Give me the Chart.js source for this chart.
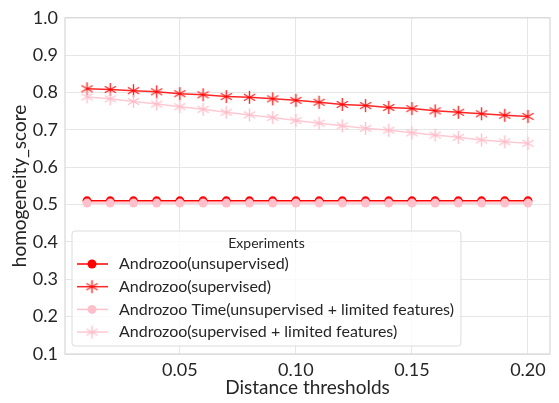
<!DOCTYPE html>
<html>
<head>
<meta charset="utf-8">
<script src="https://cdn.jsdelivr.net/npm/chart.js@4.4.1/dist/chart.umd.min.js"></script>
<style>
  html, body { margin: 0; padding: 0; background: #fff; }
  #wrap { width: 559px; height: 403px; }
</style>
</head>
<body>
<div id="wrap"><canvas id="chart" width="559" height="403"></canvas></div>
<script>
const thresholds = [0.01, 0.02, 0.03, 0.04, 0.05, 0.06, 0.07, 0.08, 0.09, 0.10,
                    0.11, 0.12, 0.13, 0.14, 0.15, 0.16, 0.17, 0.18, 0.19, 0.20];
const unsupervised = [0.510, 0.510, 0.510, 0.510, 0.510, 0.510, 0.510, 0.510, 0.510, 0.510,
                      0.510, 0.510, 0.510, 0.510, 0.510, 0.510, 0.510, 0.510, 0.510, 0.510];
const supervised = [0.810, 0.808, 0.805, 0.802, 0.797, 0.794, 0.789, 0.787, 0.783, 0.779,
                    0.774, 0.768, 0.765, 0.760, 0.757, 0.751, 0.747, 0.743, 0.739, 0.736];
const unsupervisedLimited = [0.504, 0.504, 0.504, 0.504, 0.504, 0.504, 0.504, 0.504, 0.504, 0.504,
                             0.504, 0.504, 0.504, 0.504, 0.504, 0.504, 0.504, 0.504, 0.504, 0.504];
const supervisedLimited = [0.788, 0.783, 0.776, 0.769, 0.762, 0.755, 0.747, 0.740, 0.733, 0.725,
                           0.718, 0.711, 0.704, 0.699, 0.692, 0.686, 0.680, 0.673, 0.668, 0.664];
const xTicks = [0.05, 0.10, 0.15, 0.20];
const yTicks = [0.1, 0.2, 0.3, 0.4, 0.5, 0.6, 0.7, 0.8, 0.9, 1.0];
const seriesNames = [
    "Androzoo(unsupervised)",
    "Androzoo(supervised)",
    "Androzoo Time(unsupervised + limited features)",
    "Androzoo(supervised + limited features)"
];
const legendTitle = "Experiments";

const FONT = "Lato, 'Noto Sans', sans-serif";
const TEXT = "#262626";

function toPoints(values) {
    return thresholds.map((t, i) => ({ x: t, y: values[i] }));
}

// six armed asterisk used as marker for the supervised runs
function makeAsterisk(colour) {
    const size = 15;
    const c = document.createElement('canvas');
    c.width = size;
    c.height = size;
    const g = c.getContext('2d');
    const r = 6.5, m = size / 2;
    g.strokeStyle = colour;
    g.lineWidth = 1.4;
    g.beginPath();
    for (let k = 0; k < 3; k++) {
        const ang = Math.PI / 2 + k * Math.PI / 3;
        g.moveTo(m + r * Math.cos(ang), m + r * Math.sin(ang));
        g.lineTo(m - r * Math.cos(ang), m - r * Math.sin(ang));
    }
    g.stroke();
    return c;
}

const plotFrame = {
    id: 'plotFrame',
    afterDatasetsDraw(chart) {
        const { ctx, chartArea: a } = chart;
        ctx.save();
        ctx.strokeStyle = '#d8d8d8';
        ctx.lineWidth = 1.2;
        ctx.strokeRect(a.left, a.top, a.right - a.left, a.bottom - a.top);
        ctx.restore();
    }
};

const boxLegend = {
    id: 'boxLegend',
    afterDraw(chart) {
        const { ctx, chartArea: a } = chart;
        const entryFont = `16px ${FONT}`;
        const titleFont = `14px ${FONT}`;
        ctx.save();
        ctx.font = entryFont;
        let maxW = 0;
        chart.data.datasets.forEach(ds => { maxW = Math.max(maxW, ctx.measureText(ds.label).width); });
        const w = 47 + maxW + 7;
        const h = 115;
        const x0 = a.left + 7;
        const y0 = a.bottom - 8 - h;

        ctx.beginPath();
        ctx.roundRect(x0, y0, w, h, 3);
        ctx.fillStyle = 'rgba(255,255,255,0.8)';
        ctx.fill();
        ctx.strokeStyle = '#dcdcdc';
        ctx.lineWidth = 1;
        ctx.stroke();

        ctx.fillStyle = TEXT;
        ctx.font = titleFont;
        ctx.textAlign = 'center';
        ctx.textBaseline = 'middle';
        ctx.fillText(legendTitle, x0 + w / 2, y0 + 12);

        chart.data.datasets.forEach((ds, i) => {
            const cy = y0 + 33 + i * 22.7;
            ctx.strokeStyle = ds.borderColor;
            ctx.lineWidth = ds.borderWidth;
            ctx.beginPath();
            ctx.moveTo(x0 + 5, cy);
            ctx.lineTo(x0 + 36, cy);
            ctx.stroke();
            if (ds.pointStyle === 'circle') {
                ctx.fillStyle = ds.pointBackgroundColor;
                ctx.beginPath();
                ctx.arc(x0 + 20, cy, ds.pointRadius, 0, Math.PI * 2);
                ctx.fill();
            } else {
                Chart.helpers.drawPoint(ctx, { pointStyle: ds.pointStyle, radius: ds.pointRadius, rotation: 0, borderWidth: 0 }, x0 + 20, cy);
            }
            ctx.fillStyle = TEXT;
            ctx.font = entryFont;
            ctx.textAlign = 'left';
            ctx.fillText(ds.label, x0 + 47, cy);
        });
        ctx.restore();
    }
};

const colours = ['#ff0000', 'rgba(255,0,0,0.85)', '#ffc0cb', 'rgba(255,192,203,0.85)'];
const series = [unsupervised, supervised, unsupervisedLimited, supervisedLimited];
const styles = ['circle', makeAsterisk('rgba(255,0,0,0.85)'), 'circle', makeAsterisk('rgba(255,185,198,0.9)')];

const datasets = series.map((values, i) => ({
    label: seriesNames[i],
    data: toPoints(values),
    borderColor: colours[i],
    backgroundColor: colours[i],
    borderWidth: 1.5,
    pointStyle: styles[i],
    pointRadius: styles[i] === 'circle' ? 4.5 : 7,
    pointBackgroundColor: colours[i],
    pointBorderColor: colours[i],
    pointBorderWidth: 0,
    order: 4 - i
}));

new Chart(document.getElementById('chart'), {
    type: 'line',
    data: { datasets },
    options: {
        responsive: false,
        animation: false,
        layout: { padding: { top: 12, right: 9, left: 0, bottom: 0 } },
        plugins: { legend: { display: false }, tooltip: { enabled: false } },
        scales: {
            x: {
                type: 'linear',
                min: 0.0005,
                max: 0.2095,
                afterBuildTicks: s => { s.ticks = xTicks.map(v => ({ value: v })); },
                afterFit: s => { s.height = 49; },
                grid: { color: '#e6e6e6', lineWidth: 1, drawTicks: false },
                border: { display: false },
                ticks: {
                    padding: 5,
                    color: TEXT,
                    font: { family: FONT, size: 18 },
                    callback: v => v.toFixed(2)
                },
                title: {
                    display: true,
                    text: 'Distance thresholds',
                    color: TEXT,
                    font: { family: FONT, size: 19 },
                    padding: { top: 0, bottom: 4 }
                }
            },
            y: {
                type: 'linear',
                min: 0.1,
                max: 1.0,
                afterBuildTicks: s => { s.ticks = yTicks.map(v => ({ value: v })); },
                afterFit: s => { s.width = 65; },
                grid: { color: '#e6e6e6', lineWidth: 1, drawTicks: false },
                border: { display: false },
                ticks: {
                    padding: 7,
                    color: TEXT,
                    font: { family: FONT, size: 18 },
                    callback: v => v.toFixed(1)
                },
                title: {
                    display: true,
                    text: 'homogeneity_score',
                    color: TEXT,
                    font: { family: FONT, size: 19 },
                    padding: { top: 8, bottom: 0 }
                }
            }
        }
    },
    plugins: [plotFrame, boxLegend]
});
</script>
</body>
</html>
